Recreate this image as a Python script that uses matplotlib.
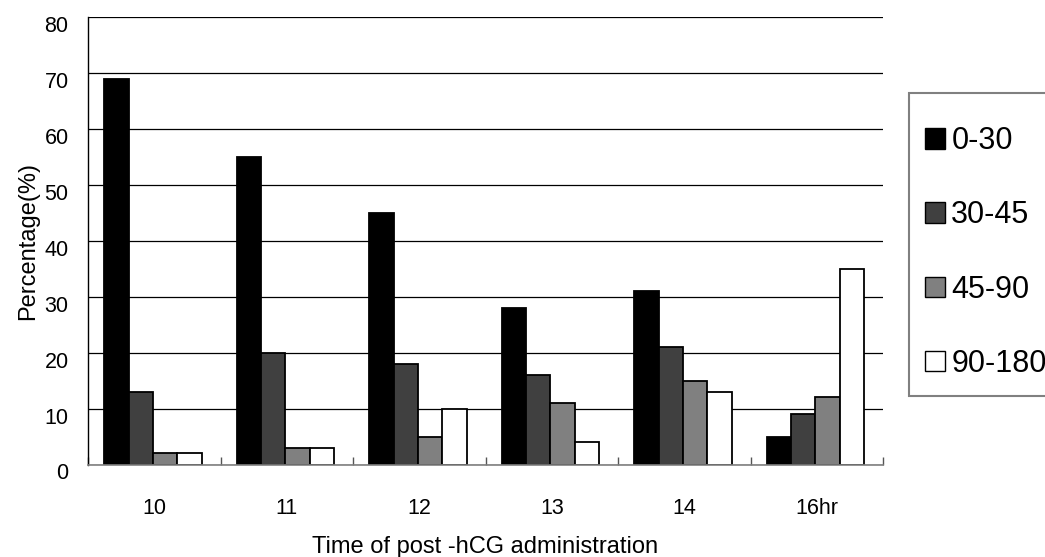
import numpy as np
import matplotlib
matplotlib.use("Agg")
import matplotlib.pyplot as plt
from matplotlib.patches import Patch, Rectangle
from matplotlib.transforms import ScaledTranslation

plt.rcParams["font.family"] = ["Liberation Sans", "DejaVu Sans"]

# data
times = ["10", "11", "12", "13", "14", "16hr"]
series_labels = ["0-30", "30-45", "45-90", "90-180"]
pct_0_30 = [69, 55, 45, 28, 31, 5]
pct_30_45 = [13, 20, 18, 16, 21, 9]
pct_45_90 = [2, 3, 5, 11, 15, 12]
pct_90_180 = [2, 3, 10, 4, 13, 35]
y_ticks = [0, 10, 20, 30, 40, 50, 60, 70, 80]

series = [pct_0_30, pct_30_45, pct_45_90, pct_90_180]
fills = ["#000000", "#404040", "#808080", "#ffffff"]

W, H = 1045, 557
fig = plt.figure(figsize=(W / 100, H / 100), dpi=100)
ax = fig.add_axes([88 / W, 1 - 464.5 / H, (883 - 88) / W, (464.5 - 17.3) / H])

x = np.arange(len(times))
w = 0.184
for i, (vals, fc) in enumerate(zip(series, fills)):
    ax.bar(x + (i - 1.5) * w - 0.01, vals, width=w, color=fc,
           edgecolor="black", linewidth=1.3, zorder=3)

ax.set_xlim(-0.5, len(times) - 0.5)
ax.set_ylim(0, 80)
ax.set_yticks(y_ticks)
ax.yaxis.grid(True, color="black", linewidth=0.9, zorder=0)
ax.set_axisbelow(True)

for s in ["top", "right"]:
    ax.spines[s].set_visible(False)
ax.spines["left"].set_color("black")
ax.spines["left"].set_linewidth(1.0)
ax.spines["bottom"].set_color("#808080")
ax.spines["bottom"].set_linewidth(1.2)
ax.spines["bottom"].set_zorder(4)

# category labels at centres, separator ticks at boundaries
ax.set_xticks(x)
ax.set_xticklabels(times)
ax.tick_params(axis="x", which="major", length=0, pad=24, labelsize=15.5)
ax.set_xticks(np.arange(len(times) + 1) - 0.5, minor=True)
ax.tick_params(axis="x", which="minor", direction="in", length=6,
               width=1.0, color="#555555")
ax.tick_params(axis="y", length=0, pad=14, labelsize=15.5)

# Excel-style: y labels sit a little below their gridlines
shift = ScaledTranslation(0, -5 / 72, fig.dpi_scale_trans)
for lab in ax.get_yticklabels():
    lab.set_transform(lab.get_transform() + shift)

ax.set_xlabel("Time of post -hCG administration", fontsize=17, labelpad=12)
ax.set_ylabel("Percentage(%)", fontsize=17, labelpad=4)

# legend frame runs off the right edge, as in the reference
fig.patches.append(Rectangle((909 / W, 1 - 396 / H), 200 / W, (396 - 93) / H,
                             transform=fig.transFigure, facecolor="white",
                             edgecolor="#808080", linewidth=1.5, zorder=1))
handles = [Patch(facecolor=fc, edgecolor="black", linewidth=1.0) for fc in fills]
leg = fig.legend(handles, series_labels, loc="upper left",
                 bbox_to_anchor=(925 / W, 1 - 126 / H),
                 fontsize=22, frameon=False, borderpad=0,
                 labelspacing=1.45, handlelength=0.66, handleheight=0.66,
                 handletextpad=0.2, borderaxespad=0)
leg.set_zorder(2)

fig.savefig("out.png", dpi=100)
